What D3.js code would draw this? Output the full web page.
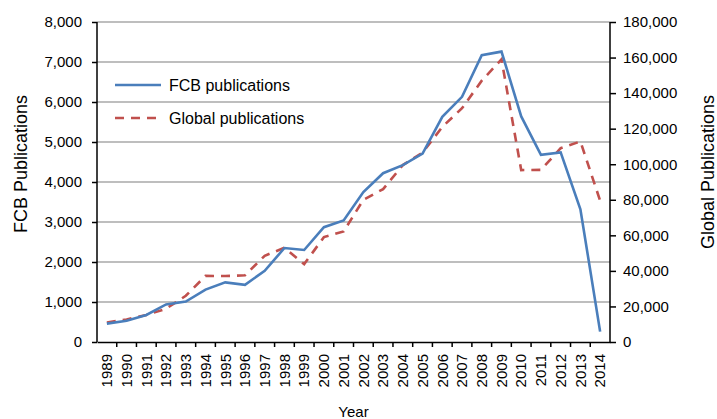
<!doctype html>
<html>
  <head>
    <script src="https://d3js.org/d3.v7.min.js"></script>
    <style>
      body { margin: 0; background: #fff; }
      text { font-family: "Liberation Sans", Arial, Helvetica, sans-serif; fill: #000; }
    </style>
  </head>

  <body>
    <svg class="chart" width=717 height=419></svg>

    <script>
      var years = ["1989","1990","1991","1992","1993","1994","1995","1996","1997","1998","1999","2000","2001",
                   "2002","2003","2004","2005","2006","2007","2008","2009","2010","2011","2012","2013","2014"];
      var fcb = [460, 530, 675, 940, 1010, 1310, 1490, 1430, 1780, 2350, 2300, 2870, 3040,
                 3750, 4220, 4420, 4710, 5630, 6130, 7170, 7260, 5640, 4680, 4740, 3320, 260];
      var global = [11000, 12700, 15200, 18700, 26000, 37200, 37100, 37500, 48500, 53000, 43800, 59000, 62200,
                    80000, 86000, 99500, 106500, 121000, 131500, 147000, 159000, 96700, 96800, 109000, 112800, 79500];
      var leftTicks = [0, 1000, 2000, 3000, 4000, 5000, 6000, 7000, 8000];
      var rightTicks = [0, 20000, 40000, 60000, 80000, 100000, 120000, 140000, 160000, 180000];

      var svg = d3.select("svg"),
        pLeft = 97, pRight = 610, pTop = 22, pBottom = 342;

      var x = d3.scaleBand().domain(years).range([pLeft, pRight]);
      var yL = d3.scaleLinear().domain([0, 8000]).range([pBottom, pTop]);
      var yR = d3.scaleLinear().domain([0, 180000]).range([pBottom, pTop]);
      var fmt = d3.format(",");

      // gridlines
      svg.append("g").selectAll("line")
        .data(leftTicks.slice(1))
        .enter().append("line")
        .attr("x1", pLeft).attr("x2", pRight)
        .attr("y1", function(d){return yL(d);})
        .attr("y2", function(d){return yL(d);})
        .attr("stroke", "#a8a8a8")
        .attr("stroke-width", 1.5);

      var axL = svg.append("g")
        .attr("transform", "translate(" + pLeft + ",0)")
        .call(d3.axisLeft(yL).tickValues(leftTicks).tickFormat(fmt).tickSize(5).tickPadding(10));
      var axR = svg.append("g")
        .attr("transform", "translate(" + pRight + ",0)")
        .call(d3.axisRight(yR).tickValues(rightTicks).tickFormat(fmt).tickSize(6).tickPadding(7));
      var axB = svg.append("g")
        .attr("transform", "translate(0," + pBottom + ")")
        .call(d3.axisBottom(x).tickSize(0).tickPadding(0));

      // ticks at band boundaries on the x axis
      axB.selectAll(".tick line").remove();
      axB.selectAll(".tick text")
        .attr("transform", "rotate(-90)")
        .attr("x", -12).attr("y", 0).attr("dy", "0.35em")
        .style("text-anchor", "end");
      axB.append("g").selectAll("line")
        .data(years.slice(1))
        .enter().append("line")
        .attr("x1", function(d){return x(d);})
        .attr("x2", function(d){return x(d);})
        .attr("y1", 0).attr("y2", 5)
        .attr("stroke", "#000").attr("stroke-width", 1.5);

      [axL, axR, axB].forEach(function(a){
        a.selectAll(".domain").attr("stroke", "#000").attr("stroke-width", 1.5);
        a.selectAll(".tick line").attr("stroke", "#000").attr("stroke-width", 1.5);
        a.selectAll("text").style("font-size", "15px").style("font-family", "'Liberation Sans', Arial, sans-serif");
      });
      axR.select(".domain").attr("d", "M0," + pTop + "V" + pBottom);
      axL.select(".domain").attr("d", "M0," + pTop + "V" + pBottom);

      var cx = function(d, i){return x(years[i]) + x.bandwidth() / 2;};

      svg.append("path")
        .datum(global)
        .attr("fill", "none")
        .attr("stroke", "#c0504d")
        .attr("stroke-width", 2.6)
        .attr("stroke-dasharray", "9,7")
        .attr("d", d3.line().x(cx).y(function(d){return yR(d);}));

      svg.append("path")
        .datum(fcb)
        .attr("fill", "none")
        .attr("stroke", "#4a7ebb")
        .attr("stroke-width", 2.6)
        .attr("d", d3.line().x(cx).y(function(d){return yL(d);}));

      // legend
      var lg = svg.append("g");
      lg.append("line").attr("x1", 115).attr("x2", 161).attr("y1", 85).attr("y2", 85)
        .attr("stroke", "#4a7ebb").attr("stroke-width", 2.6);
      lg.append("line").attr("x1", 115).attr("x2", 161).attr("y1", 118).attr("y2", 118)
        .attr("stroke", "#c0504d").attr("stroke-width", 2.6).attr("stroke-dasharray", "9,7");
      lg.append("text").attr("x", 169).attr("y", 91).style("font-size", "16px").text("FCB publications");
      lg.append("text").attr("x", 169).attr("y", 124).style("font-size", "16px").text("Global publications");

      // axis titles
      svg.append("text")
        .attr("transform", "translate(27,164) rotate(-90)")
        .style("text-anchor", "middle").style("font-size", "18px")
        .text("FCB Publications");
      svg.append("text")
        .attr("transform", "translate(714,172) rotate(-90)")
        .style("text-anchor", "middle").style("font-size", "18px")
        .text("Global Publications");
      svg.append("text")
        .attr("x", (pLeft + pRight) / 2).attr("y", 417)
        .style("text-anchor", "middle").style("font-size", "15px")
        .text("Year");
    </script>
  </body>
</html>
